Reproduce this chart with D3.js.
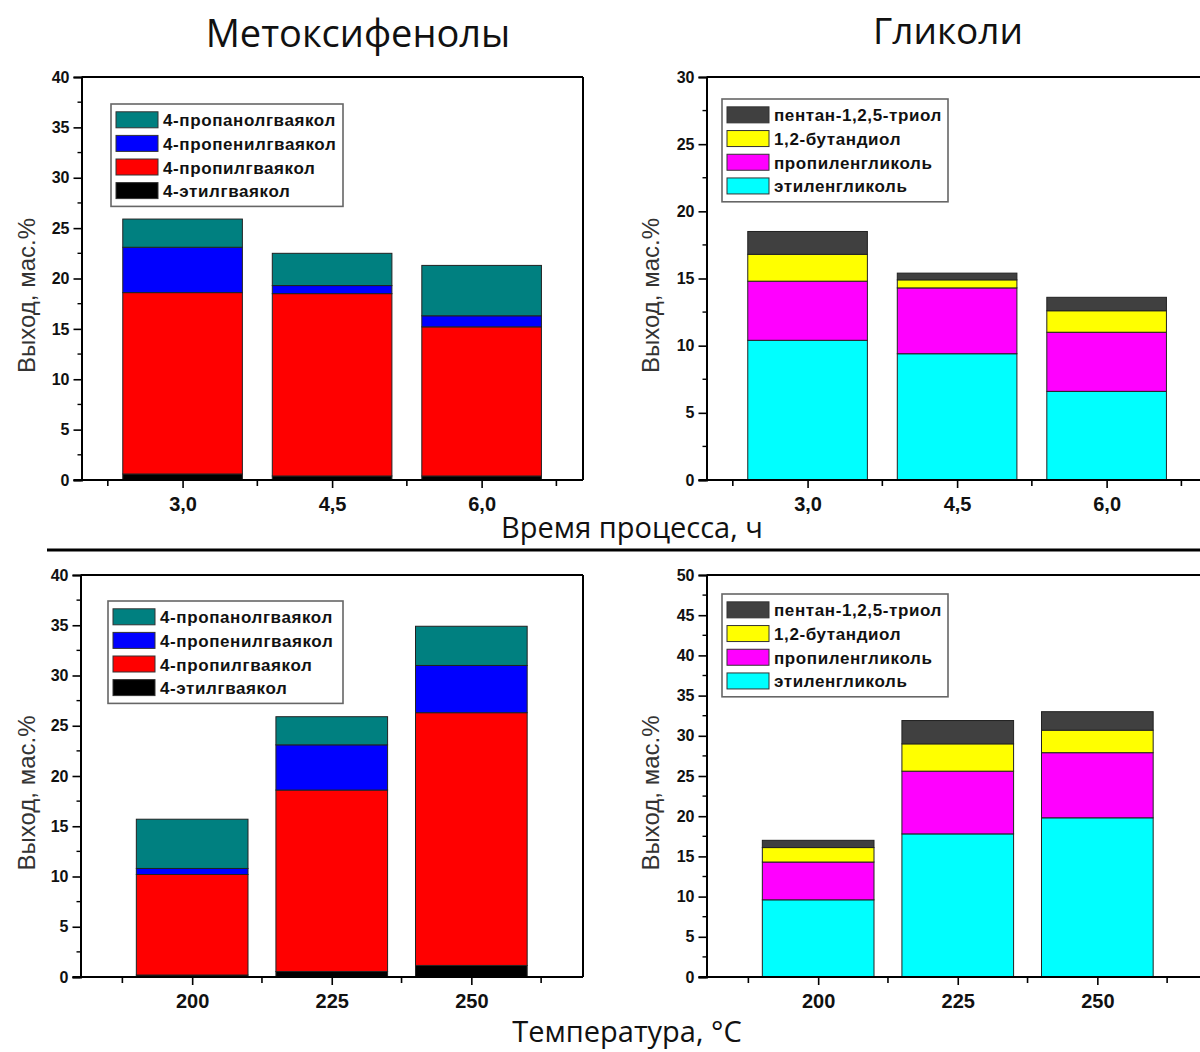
<!DOCTYPE html>
<html>
<head>
<meta charset="utf-8">
<script src="https://cdn.jsdelivr.net/npm/d3@7"></script>
<style>
  html, body { margin: 0; padding: 0; background: #fff; }
  svg { display: block; }
</style>
</head>
<body>
<svg id="chart" width="1200" height="1052"></svg>
<script>
// ---- data ----
const timeCats = ["3,0", "4,5", "6,0"];
const tempCats = ["200", "225", "250"];

const phenolSeries = ["4-этилгваякол", "4-пропилгваякол", "4-пропенилгваякол", "4-пропанолгваякол"];
const phenolColors = ["#000000", "#ff0000", "#0000ff", "#008080"];

const glycolSeries = ["этиленгликоль", "пропиленгликоль", "1,2-бутандиол", "пентан-1,2,5-триол"];
const glycolColors = ["#00ffff", "#ff00ff", "#ffff00", "#404040"];

// methoxyphenols vs. process time (wt.%), bottom to top
const phenolTimeEthyl    = [0.6, 0.4, 0.4];
const phenolTimePropyl   = [18.0, 18.1, 14.8];
const phenolTimePropenyl = [4.5, 0.8, 1.1];
const phenolTimePropanol = [2.8, 3.2, 5.0];

// glycols vs. process time
const glycolTimeEG  = [10.4, 9.4, 6.6];
const glycolTimePG  = [4.4, 4.9, 4.4];
const glycolTimeBD  = [2.0, 0.6, 1.6];
const glycolTimePT  = [1.7, 0.5, 1.0];

// methoxyphenols vs. temperature
const phenolTempEthyl    = [0.2, 0.55, 1.15];
const phenolTempPropyl   = [10.0, 18.05, 25.15];
const phenolTempPropenyl = [0.6, 4.5, 4.7];
const phenolTempPropanol = [4.9, 2.8, 3.9];

// glycols vs. temperature
const glycolTempEG = [9.6, 17.8, 19.8];
const glycolTempPG = [4.7, 7.8, 8.1];
const glycolTempBD = [1.8, 3.4, 2.8];
const glycolTempPT = [0.9, 2.9, 2.3];

const yTitle = "Выход, мас.%";

const svg = d3.select("#chart");
const arial = "'Liberation Sans', Arial, sans-serif";

function drawPanel(opt) {
  const g = svg.append("g");
  const {left, top, bottom, width, cats, series, colors, values, yMax, xDomain} = opt;
  const right = left + width;

  const x = d3.scaleLinear().domain(xDomain).range([left, right]);
  const y = d3.scaleLinear().domain([0, yMax]).range([bottom, top]);

  const rows = cats.map((c, i) => {
    const r = {cat: c, idx: i + 1};
    series.forEach((s, k) => { r[s] = values[k][i]; });
    return r;
  });
  const stacked = d3.stack().keys(series)(rows);

  const barW = x(1.8) - x(1.0);

  // bars
  stacked.forEach((layer, k) => {
    g.append("g").selectAll("rect")
      .data(layer)
      .join("rect")
      .attr("x", d => x(d.data.idx) - barW / 2)
      .attr("width", barW)
      .attr("y", d => y(d[1]))
      .attr("height", d => y(d[0]) - y(d[1]))
      .attr("fill", colors[k])
      .attr("stroke", "#222")
      .attr("stroke-width", 1);
  });

  // frame (top & right)
  g.append("line").attr("x1", left).attr("x2", right).attr("y1", top).attr("y2", top)
    .attr("stroke", "#000").attr("stroke-width", 2);
  g.append("line").attr("x1", right).attr("x2", right).attr("y1", top).attr("y2", bottom)
    .attr("stroke", "#000").attr("stroke-width", 2);

  // y axis
  const yMajor = d3.range(0, yMax + 0.001, 5);
  const yMinor = d3.range(2.5, yMax, 5);
  const yAxis = d3.axisLeft(y).tickValues(yMajor).tickSize(8).tickPadding(4).tickFormat(d3.format("d"));
  const ya = g.append("g").attr("transform", `translate(${left},0)`).call(yAxis);
  ya.select(".domain").attr("stroke", "#000").attr("stroke-width", 2);
  ya.selectAll(".tick line").attr("stroke", "#000").attr("stroke-width", 1.6);
  ya.selectAll(".tick text").attr("font-family", arial)
    .attr("font-weight", "bold").attr("font-size", 16).attr("fill", "#111");
  g.append("g").selectAll("line").data(yMinor).join("line")
    .attr("x1", left - 4).attr("x2", left).attr("y1", d => y(d)).attr("y2", d => y(d))
    .attr("stroke", "#000").attr("stroke-width", 1.4);

  // x axis
  const xa = g.append("g").attr("transform", `translate(0,${bottom})`)
    .call(d3.axisBottom(x).tickValues([1, 2, 3]).tickSize(8).tickPadding(9)
      .tickFormat(d => cats[d - 1]));
  xa.select(".domain").attr("stroke", "#000").attr("stroke-width", 2)
    .attr("d", `M${left - 8},0H${right}`);
  xa.selectAll(".tick line").attr("stroke", "#000").attr("stroke-width", 1.6);
  xa.selectAll(".tick text").attr("font-family", arial)
    .attr("font-weight", "bold").attr("font-size", 20).attr("fill", "#111");
  g.append("g").selectAll("line").data([0.5, 1.5, 2.5, 3.5]).join("line")
    .attr("x1", d => x(d)).attr("x2", d => x(d)).attr("y1", bottom).attr("y2", bottom + 6)
    .attr("stroke", "#000").attr("stroke-width", 1.6);

  // y title
  g.append("text")
    .attr("transform", `translate(${opt.yTitleX},${(top + bottom) / 2 + 17}) rotate(-90)`)
    .attr("text-anchor", "middle").attr("dominant-baseline", "central")
    .attr("font-family", arial)
    .attr("font-size", 24).attr("fill", "#333")
    .text(yTitle);

  // legend (top entry = last series)
  const lg = opt.legend;
  const lgH = lg.rowH * series.length + 8;
  g.append("rect").attr("x", lg.x).attr("y", lg.y).attr("width", lg.w).attr("height", lgH)
    .attr("fill", "#fff").attr("stroke", "#666").attr("stroke-width", 1.6);
  const order = series.map((s, k) => k).reverse();
  order.forEach((k, r) => {
    const cy = lg.y + 4 + lg.rowH * (r + 0.5);
    g.append("rect").attr("x", lg.x + 5).attr("y", cy - 8).attr("width", 42).attr("height", 16)
      .attr("fill", colors[k]).attr("stroke", "#333").attr("stroke-width", 1);
    g.append("text").attr("x", lg.x + 52).attr("y", cy + 1)
      .attr("dominant-baseline", "central")
      .attr("font-family", arial)
      .attr("font-weight", "bold").attr("font-size", 17)
      .attr("letter-spacing", 0.6).attr("fill", "#111")
      .text(series[k]);
  });
}

const topDom = [0.324, 3.678];
const botDom = [0.2, 3.8];

drawPanel({
  left: 81.5, top: 77, bottom: 480, width: 501.5, xDomain: topDom,
  cats: timeCats, series: phenolSeries, colors: phenolColors, yMax: 40,
  values: [phenolTimeEthyl, phenolTimePropyl, phenolTimePropenyl, phenolTimePropanol],
  yTitleX: 26, legend: {x: 111, y: 104, w: 232, rowH: 23.6}
});
drawPanel({
  left: 706.5, top: 77, bottom: 480, width: 501.5, xDomain: topDom,
  cats: timeCats, series: glycolSeries, colors: glycolColors, yMax: 30,
  values: [glycolTimeEG, glycolTimePG, glycolTimeBD, glycolTimePT],
  yTitleX: 650, legend: {x: 722, y: 99, w: 226, rowH: 23.7}
});
drawPanel({
  left: 80.5, top: 575, bottom: 977, width: 502.5, xDomain: botDom,
  cats: tempCats, series: phenolSeries, colors: phenolColors, yMax: 40,
  values: [phenolTempEthyl, phenolTempPropyl, phenolTempPropenyl, phenolTempPropanol],
  yTitleX: 26, legend: {x: 108, y: 601, w: 235, rowH: 23.6}
});
drawPanel({
  left: 706.5, top: 575, bottom: 977, width: 502.5, xDomain: botDom,
  cats: tempCats, series: glycolSeries, colors: glycolColors, yMax: 50,
  values: [glycolTempEG, glycolTempPG, glycolTempBD, glycolTempPT],
  yTitleX: 650, legend: {x: 722, y: 594, w: 226, rowH: 23.7}
});

// headings and shared axis titles
const sansUI = "'Open Sans', 'Noto Sans', sans-serif";
svg.append("text").attr("x", 358).attr("y", 47).attr("text-anchor", "middle")
  .attr("font-family", sansUI).attr("font-size", 38).attr("fill", "#111").text("Метоксифенолы");
svg.append("text").attr("x", 948).attr("y", 44).attr("text-anchor", "middle")
  .attr("font-family", sansUI).attr("font-size", 37).attr("fill", "#111").text("Гликоли");
svg.append("text").attr("x", 632).attr("y", 538).attr("text-anchor", "middle")
  .attr("font-family", sansUI).attr("font-size", 29).attr("fill", "#111").text("Время процесса, ч");
svg.append("text").attr("x", 627).attr("y", 1042).attr("text-anchor", "middle")
  .attr("font-family", sansUI).attr("font-size", 29).attr("fill", "#111").text("Температура, °С");

// separator between the two rows
svg.append("line").attr("x1", 47).attr("x2", 1200).attr("y1", 550).attr("y2", 550)
  .attr("stroke", "#000").attr("stroke-width", 3);
</script>
</body>
</html>
